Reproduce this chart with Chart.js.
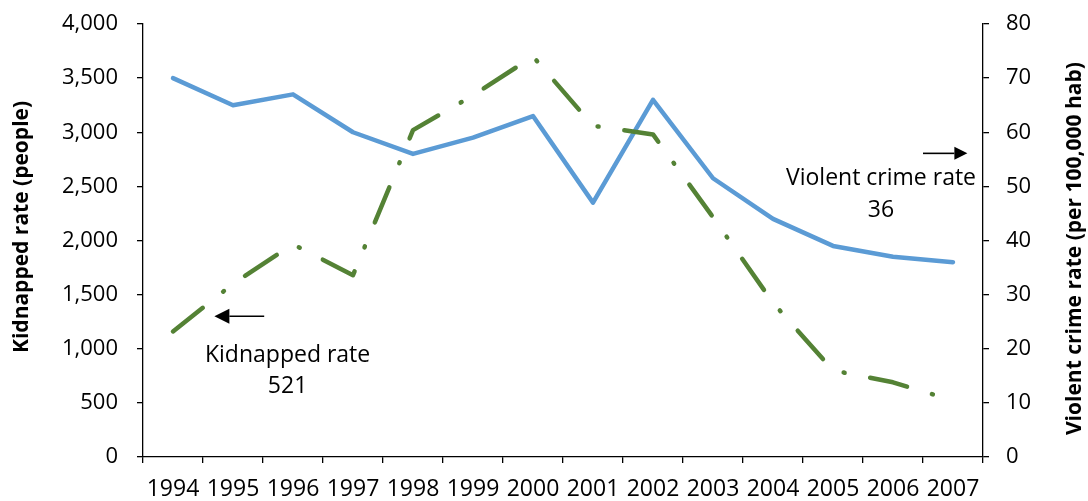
<!DOCTYPE html>
<html>
<head>
<meta charset="utf-8">
<script src="https://cdn.jsdelivr.net/npm/chart.js@4/dist/chart.umd.min.js"></script>
<style>
  html, body { margin: 0; padding: 0; background: #ffffff; }
  #wrap { width: 1088px; height: 501px; }
</style>
</head>
<body>
<div id="wrap"><canvas id="chart" width="1088" height="501"></canvas></div>
<script>
// Years on the horizontal axis
const years = ['1994', '1995', '1996', '1997', '1998', '1999', '2000',
               '2001', '2002', '2003', '2004', '2005', '2006', '2007'];

// Kidnapped people per year (left axis)
const kidnapped = [1160, 1600, 1965, 1680, 3020, 3340, 3700,
                   3060, 2980, 2215, 1425, 800, 690, 521];

// Violent crime rate per 100,000 inhabitants (right axis)
const violentCrime = [70, 65, 67, 60, 56, 59, 63,
                      47, 66, 51.5, 44, 39, 37, 36];

// Axis ranges and tick steps
const leftAxisMax = 4000, leftAxisStep = 500;
const rightAxisMax = 80, rightAxisStep = 10;

// Axis titles
const leftTitle = 'Kidnapped rate (people)';
const rightTitle = 'Violent crime rate (per 100,000 hab)';

// Callout texts for the last values
const kidnapCallout = ['Kidnapped rate', String(kidnapped[kidnapped.length - 1])];
const crimeCallout = ['Violent crime rate', String(violentCrime[violentCrime.length - 1])];

const FONT = '"Open Sans", "Liberation Sans", sans-serif';
const GREEN = '#548235';
const BLUE = '#5B9BD5';

function drawArrow(ctx, x1, y, x2, headLen, headHalf) {
  // shaft from x1 to the head, head pointing at x2
  const dir = Math.sign(x2 - x1);
  ctx.save();
  ctx.strokeStyle = '#000';
  ctx.fillStyle = '#000';
  ctx.lineWidth = 1.6;
  ctx.beginPath();
  ctx.moveTo(x1, y);
  ctx.lineTo(x2 - dir * headLen, y);
  ctx.stroke();
  ctx.beginPath();
  ctx.moveTo(x2, y);
  ctx.lineTo(x2 - dir * headLen, y - headHalf);
  ctx.lineTo(x2 - dir * headLen, y + headHalf);
  ctx.closePath();
  ctx.fill();
  ctx.restore();
}

// Axis titles and the two callouts
const decorations = {
  id: 'decorations',
  afterDraw(chart) {
    const ctx = chart.ctx;
    const x = chart.scales.x, yL = chart.scales.y, yR = chart.scales.y1;

    ctx.save();
    ctx.fillStyle = '#000';
    ctx.textAlign = 'center';
    ctx.textBaseline = 'middle';
    ctx.font = 'bold 21px ' + FONT;

    ctx.save();
    ctx.translate(22, yL.getPixelForValue(2125));
    ctx.rotate(-Math.PI / 2);
    ctx.fillText(leftTitle, 0, 0);
    ctx.restore();

    ctx.save();
    ctx.translate(1075, yR.getPixelForValue(38.5));
    ctx.rotate(-Math.PI / 2);
    ctx.fillText(rightTitle, 0, 0);
    ctx.restore();

    // callouts
    ctx.font = '23px ' + FONT;
    ctx.textBaseline = 'alphabetic';

    const kx = x.getPixelForValue(1.91);
    ctx.fillText(kidnapCallout[0], kx, yL.getPixelForValue(880));
    ctx.fillText(kidnapCallout[1], kx, yL.getPixelForValue(588));
    drawArrow(ctx, x.getPixelForValue(1.52), yL.getPixelForValue(1300),
              x.getPixelForValue(0.69), 15, 7.5);

    const cx = x.getPixelForValue(11.8);
    ctx.fillText(crimeCallout[0], cx, yR.getPixelForValue(50.25));
    ctx.fillText(crimeCallout[1], cx, yR.getPixelForValue(44.4));
    drawArrow(ctx, x.getPixelForValue(12.5), yR.getPixelForValue(56.1),
              x.getPixelForValue(13.24), 13, 6.5);

    ctx.restore();
  }
};

const tickFont = { family: FONT, size: 22 };

// keep the vertical scales from reserving extra room above and below the plot
function fitVertical(width) {
  return function (scale) {
    scale.width = width;
    scale.paddingTop = 0;
    scale.paddingBottom = 0;
  };
}

new Chart(document.getElementById('chart'), {
  type: 'line',
  data: {
    labels: years,
    datasets: [
      {
        label: 'Kidnapped rate',
        data: kidnapped,
        yAxisID: 'y',
        borderColor: GREEN,
        borderWidth: 4.5,
        borderDash: [38, 26, 1, 26],
        borderCapStyle: 'round',
        borderJoinStyle: 'round',
        pointRadius: 0,
        fill: false,
        tension: 0
      },
      {
        label: 'Violent crime rate',
        data: violentCrime,
        yAxisID: 'y1',
        borderColor: BLUE,
        borderWidth: 4.5,
        borderCapStyle: 'round',
        borderJoinStyle: 'round',
        pointRadius: 0,
        fill: false,
        tension: 0
      }
    ]
  },
  options: {
    responsive: false,
    devicePixelRatio: 1,
    animation: false,
    layout: { padding: { top: 24, left: 0, right: 0, bottom: 0 } },
    plugins: {
      legend: { display: false },
      tooltip: { enabled: false },
      title: { display: false }
    },
    scales: {
      x: {
        type: 'category',
        offset: true,
        grid: { offset: true, drawOnChartArea: false, tickLength: 6, color: '#000', lineWidth: 1.3 },
        border: { display: true, color: '#000', width: 1.3 },
        ticks: { color: '#000', font: { family: FONT, size: 23 }, padding: 13, maxRotation: 0, autoSkip: false },
        afterFit(scale) { scale.height = 44; }
      },
      y: {
        position: 'left',
        min: 0,
        max: leftAxisMax,
        grid: { drawOnChartArea: false, tickLength: 6, color: '#000', lineWidth: 1.3 },
        border: { display: true, color: '#000', width: 1.3 },
        ticks: {
          stepSize: leftAxisStep,
          color: '#000',
          font: tickFont,
          padding: 19,
          callback: v => Number(v).toLocaleString('en-US')
        },
        afterFit: fitVertical(143)
      },
      y1: {
        position: 'right',
        min: 0,
        max: rightAxisMax,
        grid: { drawOnChartArea: false, tickLength: 6, color: '#000', lineWidth: 1.3 },
        border: { display: true, color: '#000', width: 1.3 },
        ticks: { stepSize: rightAxisStep, color: '#000', font: tickFont, padding: 17 },
        afterFit: fitVertical(105)
      }
    }
  },
  plugins: [decorations]
});
</script>
</body>
</html>
